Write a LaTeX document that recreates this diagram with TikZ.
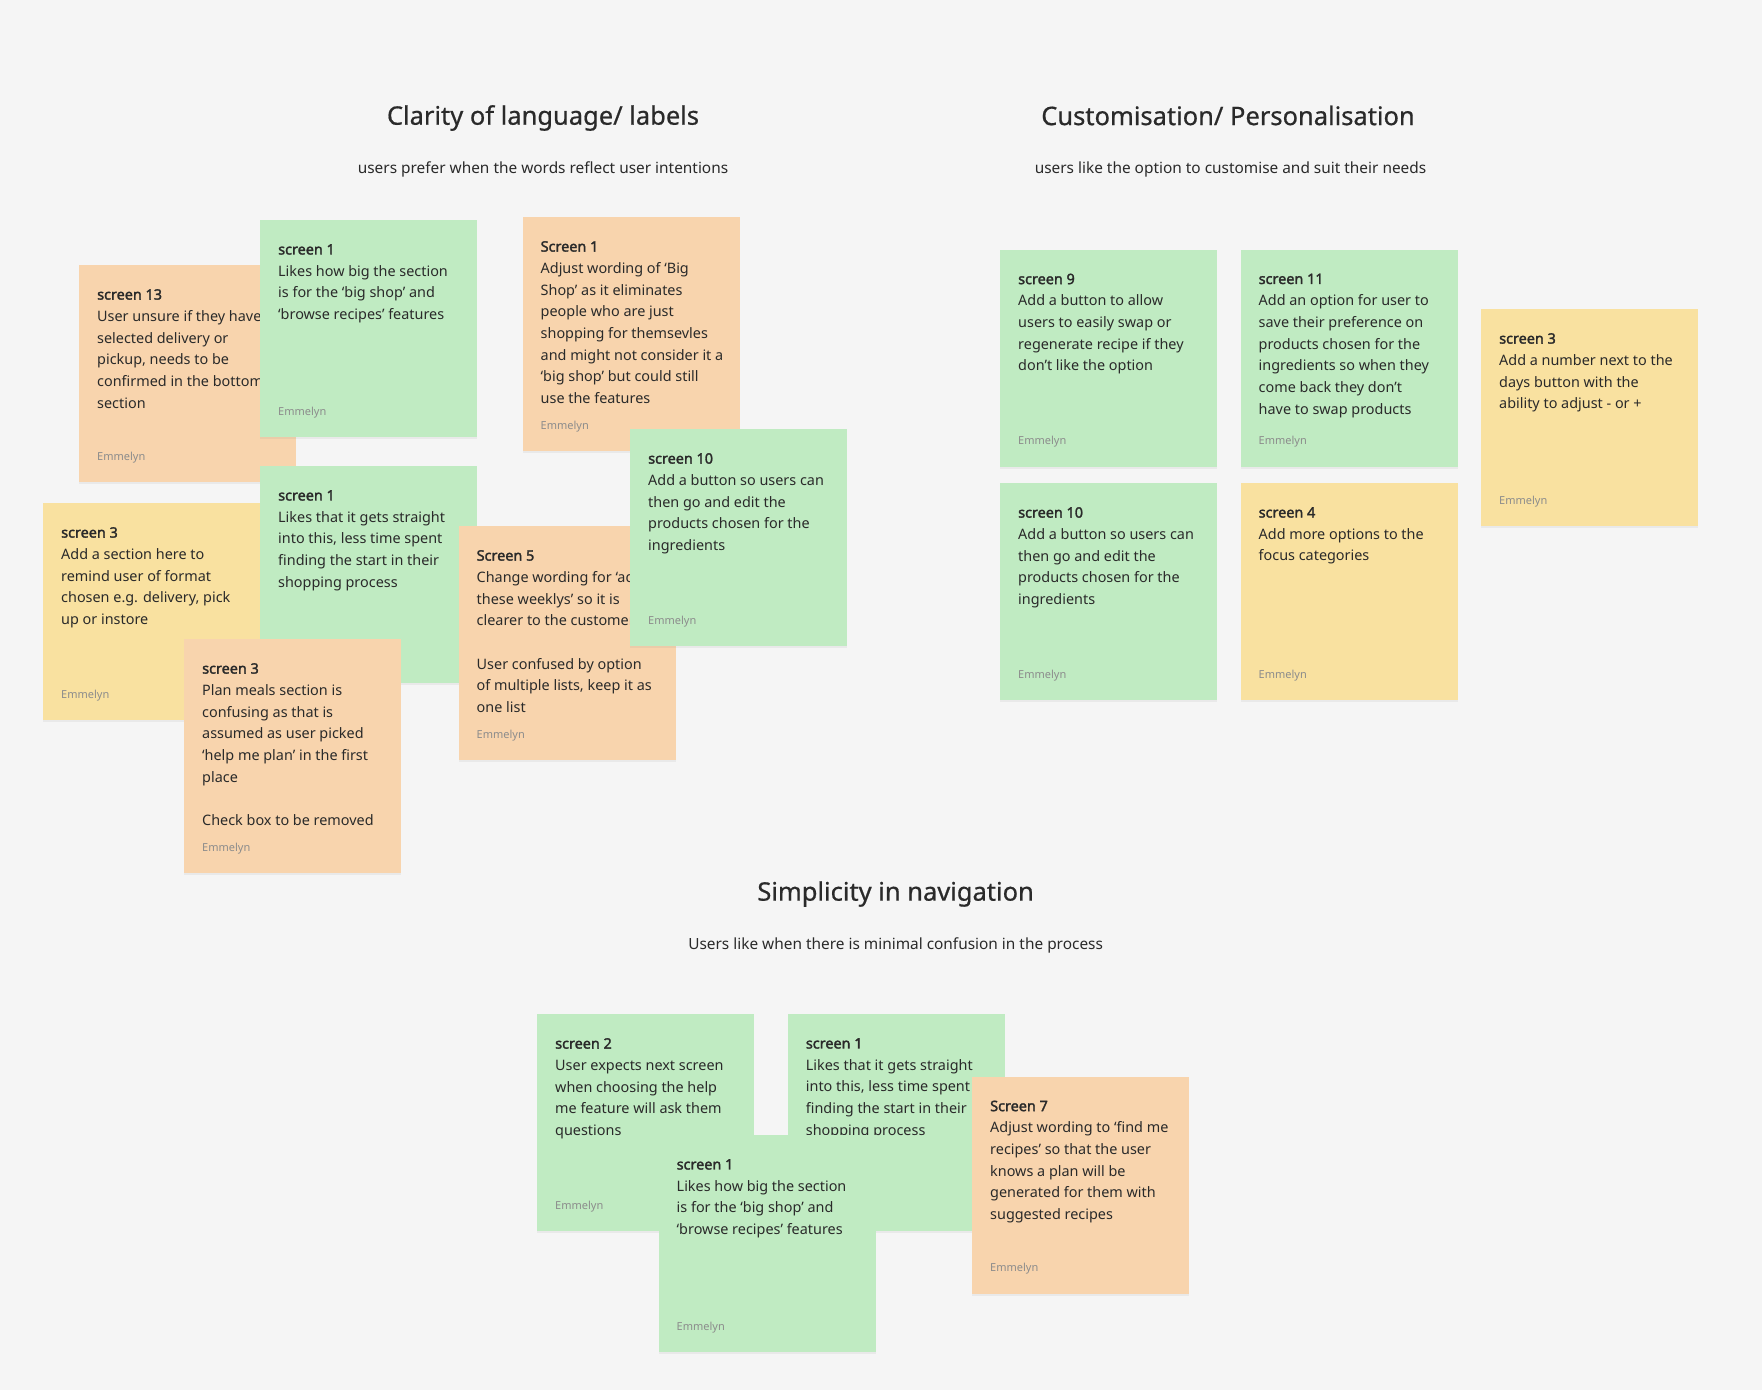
\documentclass[tikz,border=0pt]{standalone}
\usepackage{fontspec}
\setmainfont{Noto Sans}[AutoFakeBold=2]
\newfontfamily\headfont{Noto Sans}[FakeBold=0.6]
\usetikzlibrary{positioning,shadows}

\definecolor{board}{HTML}{F5F5F5}
\definecolor{notegreen}{HTML}{C0EBC2}
\definecolor{noteorange}{HTML}{F8D4AD}
\definecolor{noteyellow}{HTML}{F9E1A0}
\definecolor{ink}{HTML}{2A2A2A}

\begin{document}
\begin{tikzpicture}[x=1pt, y=-1pt,
    note/.style={rectangle, anchor=north west, minimum width=217pt, minimum height=217pt, inner sep=0pt,
        drop shadow={opacity=0.10, shadow xshift=0pt, shadow yshift=-2pt}},
    tallnote/.style={note, minimum height=234pt},
    greennote/.style={fill=notegreen},
    orangenote/.style={fill=noteorange},
    yellownote/.style={fill=noteyellow},
    notetext/.style={anchor=north west, inner sep=0pt, align=left, text=ink, font=\fontsize{14.4}{21.7}\selectfont},
    author/.style={anchor=west, inner sep=0pt, text=black!45, font=\fontsize{11}{13}\selectfont},
    heading/.style={inner sep=0pt, text=ink, font=\headfont\fontsize{25.5}{30}\selectfont},
    subheading/.style={inner sep=0pt, text=ink, font=\fontsize{15.4}{18}\selectfont}
]
    \fill[board] (0,0) rectangle (1762,1390);
    \useasboundingbox (0,0) rectangle (1762,1390);

    % clarity of language
    \node[heading] (clarity) at (543,118) {Clarity of language/ labels};
    \node[subheading] (claritysub) at (543,169.5) {users prefer when the words reflect user intentions};

    \node[note, orangenote] (c1) at (79,265) {};
    \node[notetext] (c1t) at ([xshift=18pt, yshift=-24pt]c1.north west) {\textbf{screen 13}\\User unsure if they have\\selected delivery or\\pickup, needs to be\\confirmed in the bottom\\section};
    \node[author] (c1a) at ([xshift=18pt, yshift=25pt]c1.south west) {Emmelyn};

    \node[note, greennote] (c2) at (260,220) {};
    \node[notetext] (c2t) at ([xshift=18pt, yshift=-24pt]c2.north west) {\textbf{screen 1}\\Likes how big the section\\is for the ‘big shop’ and\\‘browse recipes’ features};
    \node[author] (c2a) at ([xshift=18pt, yshift=25pt]c2.south west) {Emmelyn};

    \node[tallnote, orangenote] (c3) at (522.5,217) {};
    \node[notetext] (c3t) at ([xshift=18pt, yshift=-24pt]c3.north west) {\textbf{Screen 1}\\Adjust wording of ‘Big\\Shop’ as it eliminates\\people who are just\\shopping for themsevles\\and might not consider it a\\‘big shop’ but could still\\use the features};
    \node[author] (c3a) at ([xshift=18pt, yshift=25pt]c3.south west) {Emmelyn};

    \node[note, yellownote] (c4) at (43,503) {};
    \node[notetext] (c4t) at ([xshift=18pt, yshift=-24pt]c4.north west) {\textbf{screen 3}\\Add a section here to\\remind user of format\\chosen e.g. delivery, pick\\up or instore};
    \node[author] (c4a) at ([xshift=18pt, yshift=25pt]c4.south west) {Emmelyn};

    \node[note, greennote] (c5) at (260,466) {};
    \node[notetext] (c5t) at ([xshift=18pt, yshift=-24pt]c5.north west) {\textbf{screen 1}\\Likes that it gets straight\\into this, less time spent\\finding the start in their\\shopping process};
    \node[author] (c5a) at ([xshift=18pt, yshift=25pt]c5.south west) {Emmelyn};

    \node[tallnote, orangenote] (c6) at (184,639) {};
    \node[notetext] (c6t) at ([xshift=18pt, yshift=-24pt]c6.north west) {\textbf{screen 3}\\Plan meals section is\\confusing as that is\\assumed as user picked\\‘help me plan’ in the first\\place\\[21.7pt]Check box to be removed};
    \node[author] (c6a) at ([xshift=18pt, yshift=25pt]c6.south west) {Emmelyn};

    \node[tallnote, orangenote] (c7) at (458.5,526) {};
    \node[notetext] (c7t) at ([xshift=18pt, yshift=-24pt]c7.north west) {\textbf{Screen 5}\\Change wording for ‘add\\these weeklys’ so it is\\clearer to the customer\\[21.7pt]User confused by option\\of multiple lists, keep it as\\one list};
    \node[author] (c7a) at ([xshift=18pt, yshift=25pt]c7.south west) {Emmelyn};

    \node[note, greennote] (c8) at (630,429) {};
    \node[notetext] (c8t) at ([xshift=18pt, yshift=-24pt]c8.north west) {\textbf{screen 10}\\Add a button so users can\\then go and edit the\\products chosen for the\\ingredients};
    \node[author] (c8a) at ([xshift=18pt, yshift=25pt]c8.south west) {Emmelyn};

    % customisation
    \node[heading] (custom) at (1228,115.5) {Customisation/ Personalisation};
    \node[subheading] (customsub) at (1230.5,169.5) {users like the option to customise and suit their needs};

    \node[note, greennote] (c9) at (1000,249.5) {};
    \node[notetext] (c9t) at ([xshift=18pt, yshift=-24pt]c9.north west) {\textbf{screen 9}\\Add a button to allow\\users to easily swap or\\regenerate recipe if they\\don’t like the option};
    \node[author] (c9a) at ([xshift=18pt, yshift=25pt]c9.south west) {Emmelyn};

    \node[note, greennote] (c10) at (1240.5,249.5) {};
    \node[notetext] (c10t) at ([xshift=18pt, yshift=-24pt]c10.north west) {\textbf{screen 11}\\Add an option for user to\\save their preference on\\products chosen for the\\ingredients so when they\\come back they don’t\\have to swap products};
    \node[author] (c10a) at ([xshift=18pt, yshift=25pt]c10.south west) {Emmelyn};

    \node[note, yellownote] (c11) at (1481,309) {};
    \node[notetext] (c11t) at ([xshift=18pt, yshift=-24pt]c11.north west) {\textbf{screen 3}\\Add a number next to the\\days button with the\\ability to adjust - or +};
    \node[author] (c11a) at ([xshift=18pt, yshift=25pt]c11.south west) {Emmelyn};

    \node[note, greennote] (c12) at (1000,483) {};
    \node[notetext] (c12t) at ([xshift=18pt, yshift=-24pt]c12.north west) {\textbf{screen 10}\\Add a button so users can\\then go and edit the\\products chosen for the\\ingredients};
    \node[author] (c12a) at ([xshift=18pt, yshift=25pt]c12.south west) {Emmelyn};

    \node[note, yellownote] (c13) at (1240.5,483) {};
    \node[notetext] (c13t) at ([xshift=18pt, yshift=-24pt]c13.north west) {\textbf{screen 4}\\Add more options to the\\focus categories};
    \node[author] (c13a) at ([xshift=18pt, yshift=25pt]c13.south west) {Emmelyn};

    % simplicity
    \node[heading] (simple) at (895.6,894) {Simplicity in navigation};
    \node[subheading] (simplesub) at (895.6,945) {Users like when there is minimal confusion in the process};

    \node[note, greennote] (c14) at (537,1014) {};
    \node[notetext] (c14t) at ([xshift=18pt, yshift=-24pt]c14.north west) {\textbf{screen 2}\\User expects next screen\\when choosing the help\\me feature will ask them\\questions};
    \node[author] (c14a) at ([xshift=18pt, yshift=25pt]c14.south west) {Emmelyn};

    \node[note, greennote] (c15) at (787.7,1014) {};
    \node[notetext] (c15t) at ([xshift=18pt, yshift=-24pt]c15.north west) {\textbf{screen 1}\\Likes that it gets straight\\into this, less time spent\\finding the start in their\\shopping process};
    \node[author] (c15a) at ([xshift=18pt, yshift=25pt]c15.south west) {Emmelyn};

    \node[note, greennote] (c16) at (658.5,1135) {};
    \node[notetext] (c16t) at ([xshift=18pt, yshift=-24pt]c16.north west) {\textbf{screen 1}\\Likes how big the section\\is for the ‘big shop’ and\\‘browse recipes’ features};
    \node[author] (c16a) at ([xshift=18pt, yshift=25pt]c16.south west) {Emmelyn};

    \node[note, orangenote] (c17) at (972,1076.5) {};
    \node[notetext] (c17t) at ([xshift=18pt, yshift=-24pt]c17.north west) {\textbf{Screen 7}\\Adjust wording to ‘find me\\recipes’ so that the user\\knows a plan will be\\generated for them with\\suggested recipes};
    \node[author] (c17a) at ([xshift=18pt, yshift=25pt]c17.south west) {Emmelyn};
\end{tikzpicture}
\end{document}
